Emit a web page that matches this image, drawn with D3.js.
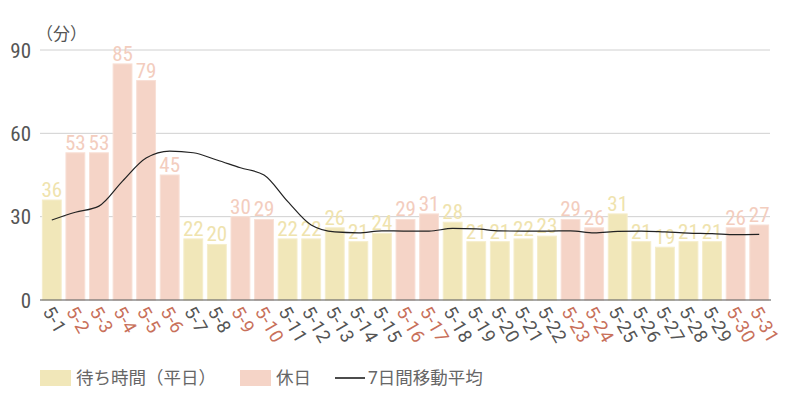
<!DOCTYPE html>
<html><head><meta charset="utf-8">
<script src="https://cdn.jsdelivr.net/npm/d3@7"></script>
<style>
body{margin:0;background:#fff;}
svg text{font-family:Roboto,"Noto Sans CJK JP",sans-serif;}
.cond{font-family:"Roboto Condensed","Liberation Sans Narrow","DejaVu Sans Condensed",Roboto,sans-serif;font-stretch:condensed;}
</style></head>
<body>
<svg id="c" width="800" height="400"></svg>
<script>
const days = ["5-1","5-2","5-3","5-4","5-5","5-6","5-7","5-8","5-9","5-10","5-11","5-12","5-13","5-14","5-15","5-16","5-17","5-18","5-19","5-20","5-21","5-22","5-23","5-24","5-25","5-26","5-27","5-28","5-29","5-30","5-31"];
const waitTimes = [36,53,53,85,79,45,22,20,30,29,22,22,26,21,24,29,31,28,21,21,22,23,29,26,31,21,19,21,21,26,27];
const holidays = ["5-2","5-3","5-4","5-5","5-6","5-9","5-10","5-16","5-17","5-23","5-24","5-30","5-31"];
const movingAvg = [28.8,31.6,33.8,42.8,51.1,53.6,53.0,50.4,47.6,45.0,35.5,27.0,24.5,24.2,24.9,24.8,24.8,25.8,25.6,24.9,24.8,24.8,24.9,24.2,24.7,24.8,24.5,24.1,23.9,23.5,23.6];
const yTicks = [0,30,60,90];

const C = {weekday:"#F1E7B9", holiday:"#F5D4C7", weekdayText:"#555", holidayText:"#C8705A"};
const svg = d3.select("#c");
const L = 40, R = 771, T = 50, B = 300;
const x = d3.scaleBand().domain(days).range([L, R]).paddingInner(0.2).paddingOuter(0.1);
const y = d3.scaleLinear().domain([0, 90]).range([B, T]);
const isHol = d => holidays.includes(d);

// grid
svg.append("g").selectAll("line").data(yTicks.filter(t=>t>0)).join("line")
  .attr("x1", L).attr("x2", 770).attr("y1", d=>y(d)).attr("y2", d=>y(d))
  .attr("stroke", "#d0d0d0").attr("stroke-width", 1);

// y tick labels
svg.append("g").selectAll("text").data(yTicks).join("text")
  .attr("class","cond")
  .attr("x", 31).attr("y", d=>y(d)).attr("dy","0.36em")
  .attr("text-anchor","end").attr("font-size",21).attr("fill","#555").text(d=>d);

svg.append("text").attr("x", 36).attr("y", 40).attr("font-size", 17).attr("fill","#555")
  .attr("font-family","'Noto Sans CJK JP',sans-serif").text("（分）");

// bars
svg.append("g").selectAll("rect").data(days).join("rect")
  .attr("x", d=>x(d)).attr("width", x.bandwidth())
  .attr("y", (d,i)=>y(waitTimes[i])).attr("height", (d,i)=>B - y(waitTimes[i]))
  .attr("fill", d=>isHol(d)?C.holiday:C.weekday)
  .attr("stroke", d=>isHol(d)?"#F8E0D6":"#F5EDCB").attr("stroke-width",1);

// bar labels
svg.append("g").selectAll("text").data(days).join("text")
  .attr("class","cond")
  .attr("x", d=>x(d)+x.bandwidth()/2).attr("y", (d,i)=>y(waitTimes[i]) - 3)
  .attr("text-anchor","middle").attr("font-size",21)
  .attr("fill", d=>isHol(d)?"#F3CDBE":"#EFE3AE").text((d,i)=>waitTimes[i]);

// moving average line
const line = d3.line().x((d,i)=>x(days[i])+x.bandwidth()/2).y(d=>y(d)).curve(d3.curveMonotoneX);
svg.append("path").datum(movingAvg).attr("d", line).attr("fill","none").attr("stroke","#222").attr("stroke-width",1.2);

// axis baseline
svg.append("line").attr("x1", L).attr("x2", R).attr("y1", B).attr("y2", B).attr("stroke","#555").attr("stroke-width",1.2);

// x labels
svg.append("g").selectAll("text").data(days).join("text")
  .attr("transform", d=>`translate(${x(d)+x.bandwidth()/2-4},${B+8}) rotate(60)`)
  .attr("dy","0.35em").attr("letter-spacing","0.5px")
  .attr("font-size",18.5).attr("fill", d=>isHol(d)?C.holidayText:C.weekdayText).text(d=>d);

// legend
const lg = svg.append("g").attr("font-family","'Noto Sans CJK JP',sans-serif").attr("font-size",17.5).attr("fill","#666");
lg.append("rect").attr("x",40).attr("y",370).attr("width",31).attr("height",16).attr("fill",C.weekday);
lg.append("text").attr("x",76).attr("y",378).attr("dy","0.36em").text("待ち時間（平日）");
lg.append("rect").attr("x",240).attr("y",370).attr("width",31).attr("height",16).attr("fill",C.holiday);
lg.append("text").attr("x",276).attr("y",378).attr("dy","0.36em").text("休日");
lg.append("line").attr("x1",335).attr("x2",365).attr("y1",378).attr("y2",378).attr("stroke","#111").attr("stroke-width",1.5);
lg.append("text").attr("x",368).attr("y",378).attr("dy","0.36em").text("7日間移動平均");
</script>
</body></html>
